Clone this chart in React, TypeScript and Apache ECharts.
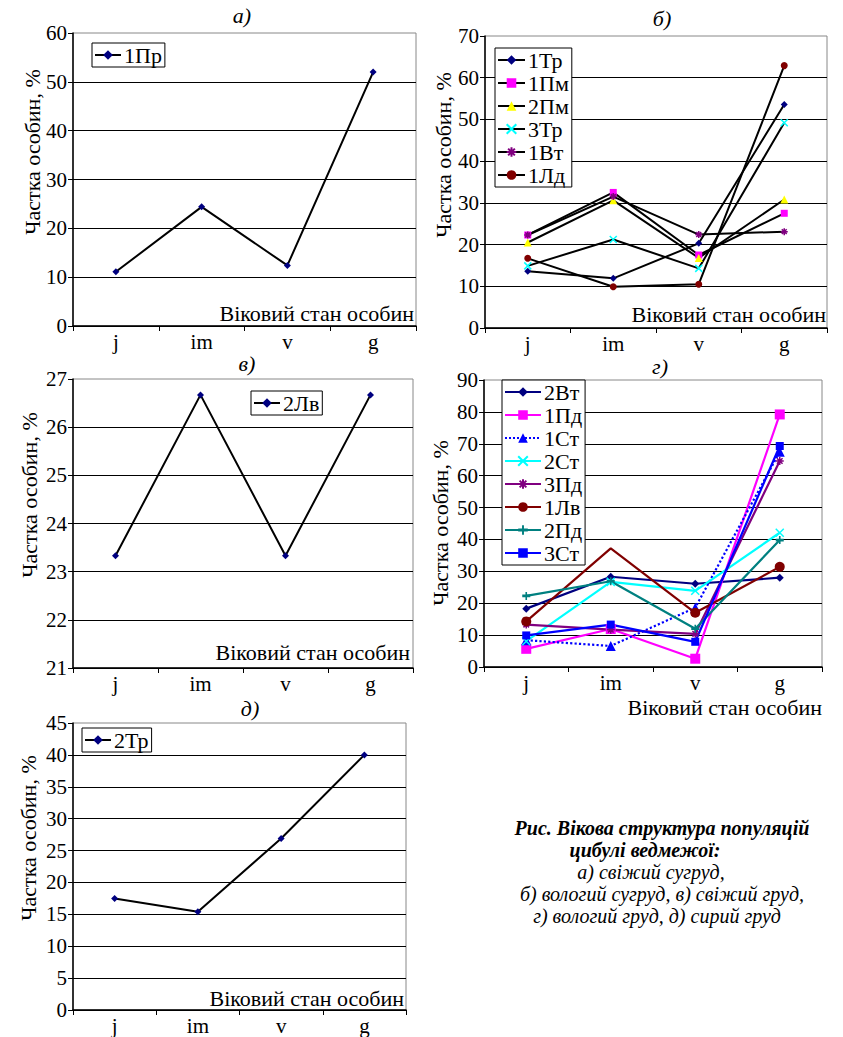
import React, { useEffect, useRef } from "react";
import * as echarts from "echarts";

const categories = ["j", "im", "v", "g"];

// а) 1Пр
const seriesA_1Pr = [11.1, 24.4, 12.4, 52.0];
// б)
const seriesB_1Tr = [13.6, 11.9, 20.3, 53.6];
const seriesB_1Pm = [22.3, 32.5, 17.5, 27.5];
const seriesB_2Pm = [20.5, 30.6, 16.8, 30.8];
const seriesB_3Tr = [14.9, 21.2, 14.3, 49.2];
const seriesB_1Vt = [22.3, 31.5, 22.4, 23.1];
const seriesB_1Ld = [16.7, 9.9, 10.5, 62.9];
// в) 2Лв
const seriesV_2Lv = [23.33, 26.67, 23.33, 26.67];
// г)
const seriesG_2Vt = [18.3, 28.3, 26.1, 28.0];
const seriesG_1Pd = [5.7, 11.9, 2.6, 79.2];
const seriesG_1St = [8.4, 6.6, 18.6, 67.5];
const seriesG_2St = [8.1, 26.7, 23.9, 42.1];
const seriesG_3Pd = [13.3, 11.7, 10.4, 64.6];
const seriesG_1Lv = [14.3, 37.2, 17.0, 31.4];
const seriesG_2Pd = [22.3, 26.9, 12.0, 39.8];
const seriesG_3St = [9.9, 13.3, 7.9, 69.3];
// д) 2Тр
const seriesD_2Tr = [17.5, 15.4, 26.9, 40.0];

const yLabel = "Частка особин, %";
const xLabel = "Віковий стан особин";
const captionLines = [
  "Рис. Вікова структура популяцій",
  "цибулі ведмежої:",
  "а) свіжий сугруд,",
  "б) вологий сугруд, в) свіжий груд,",
  "г) вологий груд, д) сирий груд",
];

const FONT = "'Liberation Serif', 'Times New Roman', serif";
const X_SYM = "path://M0,0L10,10M10,0L0,10";
const STAR_SYM = "path://M0,5L10,5M5,0L5,10M1.5,1.5L8.5,8.5M8.5,1.5L1.5,8.5";
const PLUS_SYM = "path://M0,4L10,4L10,6L0,6ZM4,2L6,2L6,8L4,8Z";

function xAxis(gridIndex: number) {
  return {
    type: "category",
    gridIndex,
    data: categories,
    boundaryGap: true,
    axisLine: { lineStyle: { color: "#000", width: 1.5 } },
    axisTick: { show: true, length: 5, lineStyle: { color: "#000", width: 1 } },
    axisLabel: { color: "#000", fontSize: 21, fontFamily: FONT, margin: 5 },
    splitLine: { show: false },
  };
}

function yAxis(gridIndex: number, min: number, max: number, interval: number) {
  return {
    type: "value",
    gridIndex,
    min,
    max,
    interval,
    axisLine: { show: true, lineStyle: { color: "#000", width: 1.5 } },
    axisTick: { show: true, length: 5, lineStyle: { color: "#000", width: 1 } },
    axisLabel: { color: "#000", fontSize: 21, fontFamily: FONT, margin: 6 },
    splitLine: { show: true, showMaxLine: false, lineStyle: { color: "#000", width: 1 } },
  };
}

function blackLine(name: string, data: number[], idx: number, symbol: string, size: number, color: string, stroke = false) {
  return {
    type: "line",
    name,
    data,
    xAxisIndex: idx,
    yAxisIndex: idx,
    symbol,
    symbolSize: size,
    showAllSymbol: true,
    lineStyle: { color: "#000", width: 2 },
    itemStyle: stroke
      ? { color: color, borderColor: color, borderWidth: 1.5 }
      : { color: color, borderWidth: 0 },
    emphasis: { disabled: true },
  };
}

function colorLine(name: string, data: any[], symbol: string, size: number, color: string, opts: any = {}) {
  return {
    type: "line",
    name,
    data,
    xAxisIndex: 3,
    yAxisIndex: 3,
    symbol,
    symbolSize: size,
    showAllSymbol: true,
    lineStyle: { color, width: 2.2, type: opts.dotted ? "dotted" : "solid" },
    itemStyle: opts.stroke
      ? { color, borderColor: color, borderWidth: 1.5 }
      : { color, borderWidth: 0 },
    emphasis: { disabled: true },
  };
}

function legend(left: number, top: number, names: string[], itemWidth: number, itemGap: number) {
  return {
    left,
    top,
    orient: "vertical",
    data: names,
    selectedMode: false,
    backgroundColor: "#fff",
    borderColor: "#000",
    borderWidth: 1,
    padding: [1, 3, 1, 2],
    itemWidth,
    itemHeight: 12,
    itemGap,
    textStyle: { color: "#000", fontSize: 22, lineHeight: 20, fontFamily: FONT, padding: [0, 0, 0, -2] },
  };
}

function txt(x: number, y: number, text: string, o: any = {}) {
  return {
    type: "text",
    x,
    y,
    rotation: o.rotation || 0,
    style: {
      text,
      fill: "#000",
      fontSize: o.fontSize || 22,
      fontFamily: FONT,
      fontStyle: o.italic ? "italic" : "normal",
      fontWeight: o.bold ? "bold" : "normal",
      align: o.align || "center",
      verticalAlign: "middle",
    },
  };
}

export default function App() {
  const ref = useRef<HTMLDivElement>(null);
  useEffect(() => {
    document.body.style.margin = "0";
    const chart = echarts.init(ref.current!, undefined, { renderer: "svg" });
    const grid = (left: number, top: number, width: number, height: number) => ({
      left,
      top,
      width,
      height,
      show: true,
      borderColor: "#888",
      borderWidth: 1,
      backgroundColor: "transparent",
    });

    const g1Lv = seriesG_1Lv.map((v, i) => (i === 1 ? { value: v, symbol: "none" } : v));

    const option: any = {
      animation: false,
      backgroundColor: "#fff",
      textStyle: { fontFamily: FONT },
      grid: [
        grid(73, 33, 343, 293),
        grid(485, 36, 342, 292),
        grid(73, 379, 340, 289),
        grid(484, 380, 338, 287),
        grid(73, 723, 333, 287),
      ],
      xAxis: [xAxis(0), xAxis(1), xAxis(2), xAxis(3), xAxis(4)],
      yAxis: [
        yAxis(0, 0, 60, 10),
        yAxis(1, 0, 70, 10),
        yAxis(2, 21, 27, 1),
        yAxis(3, 0, 90, 10),
        yAxis(4, 0, 45, 5),
      ],
      legend: [
        legend(92, 43, ["1Пр"], 26, 1),
        legend(495, 48, ["1Тр", "1Пм", "2Пм", "3Тр", "1Вт", "1Лд"], 27, 1),
        legend(251, 391, ["2Лв"], 26, 1),
        legend(502, 380, ["2Вт", "1Пд", "1Ст", "2Ст", "3Пд", "1Лв", "2Пд", "3Ст"], 36, 1),
        legend(82, 728, ["2Тр"], 26, 1),
      ],
      series: [
        blackLine("1Пр", seriesA_1Pr, 0, "diamond", 7, "#000080"),
        blackLine("1Тр", seriesB_1Tr, 1, "diamond", 7, "#000080"),
        blackLine("1Пм", seriesB_1Pm, 1, "rect", 7, "#FF00FF"),
        blackLine("2Пм", seriesB_2Pm, 1, "triangle", 8, "#FFFF00"),
        blackLine("3Тр", seriesB_3Tr, 1, X_SYM, 7, "#00FFFF", true),
        blackLine("1Вт", seriesB_1Vt, 1, STAR_SYM, 7, "#800080", true),
        blackLine("1Лд", seriesB_1Ld, 1, "circle", 7, "#800000"),
        blackLine("2Лв", seriesV_2Lv, 2, "diamond", 7, "#000080"),
        colorLine("2Вт", seriesG_2Vt, "diamond", 8, "#000080"),
        colorLine("1Пд", seriesG_1Pd, "rect", 10, "#FF00FF"),
        colorLine("1Ст", seriesG_1St, "triangle", 10, "#0000FF", { dotted: true }),
        colorLine("2Ст", seriesG_2St, X_SYM, 8, "#00FFFF", { stroke: true }),
        colorLine("3Пд", seriesG_3Pd, STAR_SYM, 8, "#800080", { stroke: true }),
        colorLine("1Лв", g1Lv, "circle", 10, "#800000"),
        colorLine("2Пд", seriesG_2Pd, PLUS_SYM, 8, "#008080"),
        colorLine("3Ст", seriesG_3St, "rect", 8, "#0000FF"),
        blackLine("2Тр", seriesD_2Tr, 4, "diamond", 7, "#000080"),
      ],
      graphic: [
        // panel titles
        txt(242, 15, "а)", { italic: true }),
        txt(662, 18, "б)", { italic: true }),
        txt(247, 363, "в)", { italic: true }),
        txt(660, 366, "г)", { italic: true }),
        txt(250, 708, "д)", { italic: true }),
        // y axis names
        txt(32, 152, yLabel, { rotation: Math.PI / 2 }),
        txt(443, 155, yLabel, { rotation: Math.PI / 2 }),
        txt(29, 495, yLabel, { rotation: Math.PI / 2 }),
        txt(440, 523, yLabel, { rotation: Math.PI / 2 }),
        txt(28, 838, yLabel, { rotation: Math.PI / 2 }),
        // x axis names
        txt(414, 313, xLabel, { align: "right" }),
        txt(826, 314, xLabel, { align: "right" }),
        txt(410, 652, xLabel, { align: "right" }),
        txt(822, 707, xLabel, { align: "right" }),
        txt(404, 998, xLabel, { align: "right" }),
        // caption
        txt(662, 828, captionLines[0], { italic: true, bold: true, fontSize: 20 }),
        txt(645, 850, captionLines[1], { italic: true, bold: true, fontSize: 20 }),
        txt(651, 872, captionLines[2], { italic: true, fontSize: 20 }),
        txt(662, 894, captionLines[3], { italic: true, fontSize: 20 }),
        txt(657, 916, captionLines[4], { italic: true, fontSize: 20 }),
      ],
    };
    chart.setOption(option);
    return () => chart.dispose();
  }, []);
  return <div ref={ref} style={{ width: 843, height: 1037 }} />;
}
